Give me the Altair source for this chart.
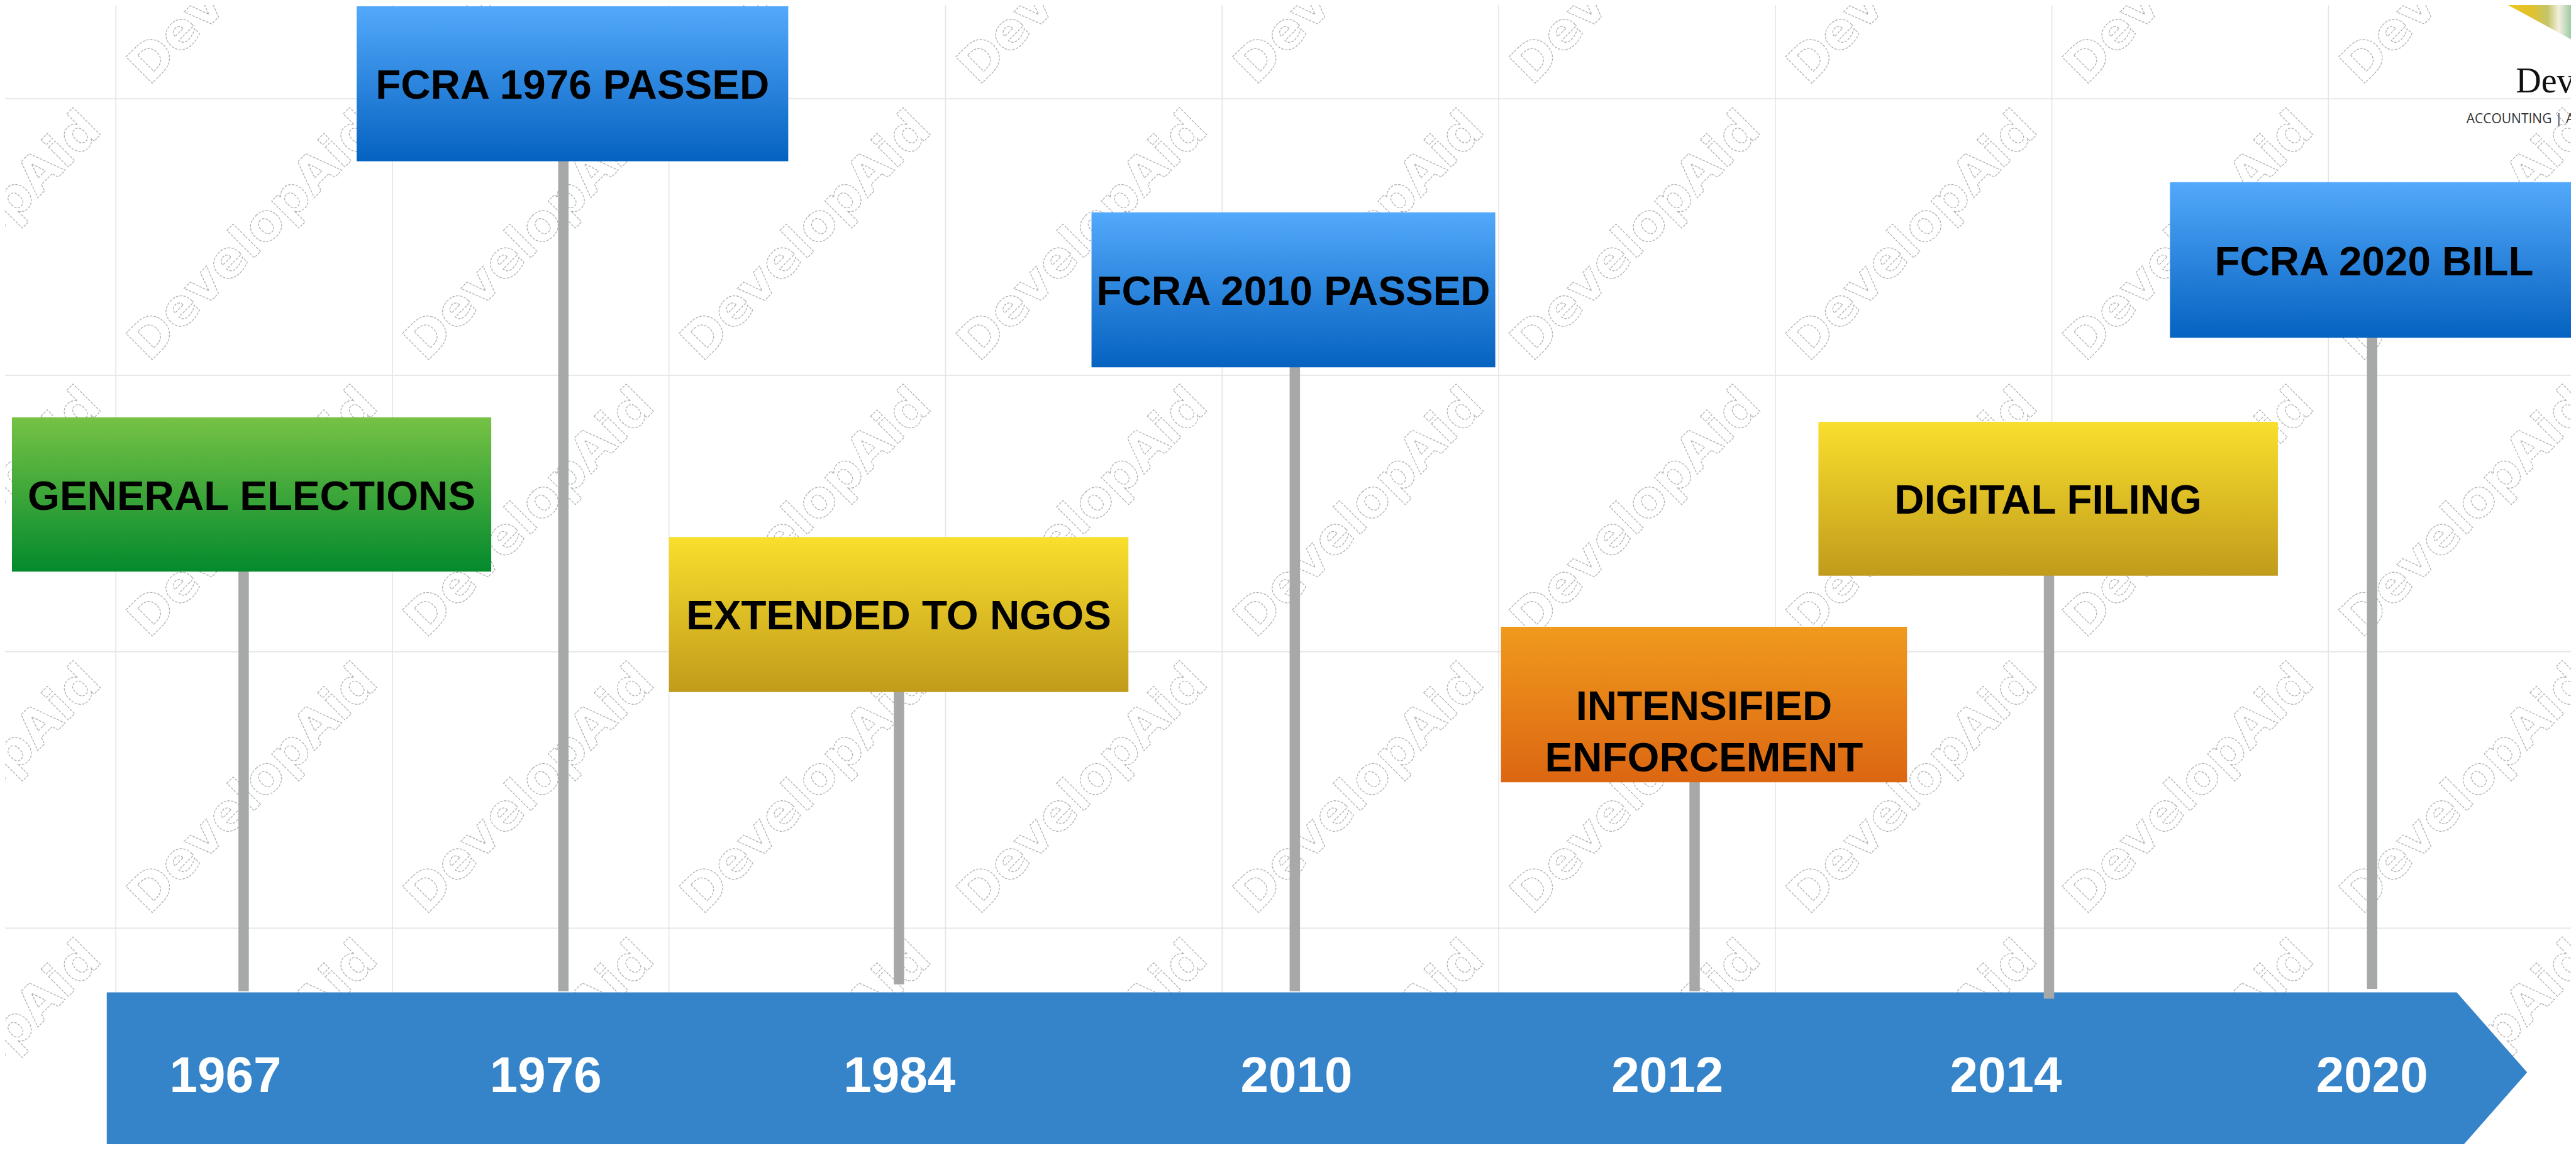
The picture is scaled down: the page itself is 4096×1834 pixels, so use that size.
import altair as alt
import pandas as pd

# ---------------- data (reference pixel units, 4532 x 2029) ----------------
labels = ["GENERAL ELECTIONS", "FCRA 1976 PASSED", "EXTENDED TO NGOS", "FCRA 2010 PASSED",
          "INTENSIFIED\nENFORCEMENT", "DIGITAL FILING", "FCRA 2020 BILL"]
years = ["1967", "1976", "1984", "2010", "2012", "2014", "2020"]
box_group = ["green", "blue", "yellow", "blue", "orange", "yellow", "blue"]
box_x1 = [21, 628, 1178, 1922, 2643, 3202, 3821]
box_x2 = [865, 1388, 1987, 2633, 3358, 4011, 4540]
box_y1 = [735, 11, 946, 374, 1104, 743, 321]
box_y2 = [1007, 284, 1219, 647, 1378, 1014, 595]
pole_x = [429, 992, 1583, 2280, 2984, 3608, 4177]
pole_bottom = [1746, 1746, 1734, 1746, 1746, 1759, 1742]
year_x = [397, 961, 1584, 2283, 2936, 3532, 4177]
year_baseline = [1924, 1924, 1924, 1924, 1924, 1924, 1924]

arrow_x = [188, 4326, 4450]
arrow_top = [1748, 1748, 1889]
arrow_bottom = [2030, 2030, 1889]

grid_x = [204, 691, 1178, 1665, 2152, 2639, 3126, 3613, 4100]
grid_y = [174, 661, 1148, 1635]

wm_x = [-40, 447, 934, 1421, 1908, 2395, 2882, 3369, 3856, 4343]
wm_y = [-70, 417, 904, 1391, 1878]

logo_shape_x = [4400, 4532]
logo_shape_y = [0, 72]
logo_shape_y2 = [0, 0]
logo_texts = ["Dev", "ACCOUNTING | AUDIT"]
logo_text_x = [4430, 4343]
logo_text_y = [163, 217]

gradients = {
    "green": ("#76c245", "#038a2d"),
    "blue": ("#53a9fb", "#0562c0"),
    "yellow": ("#f9df2d", "#c19b1b"),
    "orange": ("#f09a1d", "#dc6612"),
}

# ---------------- tables ----------------
boxes = pd.DataFrame({
    "label": labels, "year": years, "group": box_group,
    "x1": box_x1, "x2": box_x2, "y1": box_y1, "y2": box_y2,
    "px": pole_x, "pb": pole_bottom, "yx": year_x, "yb": year_baseline,
})
boxes["cx"] = (boxes["x1"] + boxes["x2"]) / 2
boxes["cy"] = (boxes["y1"] + boxes["y2"]) / 2

arrow = pd.DataFrame({"x": arrow_x, "y": arrow_top, "y2": arrow_bottom})
gx = pd.DataFrame({"x": grid_x})
gy = pd.DataFrame({"y": grid_y})
wm = pd.DataFrame([{"x": a, "y": b, "t": "DevelopAid"} for b in wm_y for a in wm_x])
logo_shape = pd.DataFrame({"x": logo_shape_x, "y": logo_shape_y, "y2": logo_shape_y2})
logo_txt = pd.DataFrame({"t": logo_texts, "x": logo_text_x, "y": logo_text_y})

# ---------------- scales ----------------
S = 0.903
W, H = 4080, 1812
X0, X1 = 8 / S, (8 + W) / S
Y0, Y1 = 8 / S, (8 + H) / S
xs = alt.Scale(domain=[X0, X1], nice=False, zero=False)
ys = alt.Scale(domain=[Y0, Y1], nice=False, zero=False, reverse=True)


def X(f):
    return alt.X(f, type="quantitative", scale=xs, axis=None)


def Y(f):
    return alt.Y(f, type="quantitative", scale=ys, axis=None)


layers = []

# grid
layers.append(alt.Chart(gx).mark_rule(color="#e4e4e4", strokeWidth=1.6, clip=True).encode(x=X("x")))
layers.append(alt.Chart(gy).mark_rule(color="#e4e4e4", strokeWidth=1.6, clip=True).encode(y=Y("y")))

# watermark
layers.append(alt.Chart(wm).mark_text(
    font="DejaVu Sans", fontWeight="bold", fontSize=81, angle=315,
    align="center", baseline="middle", fill="#ffffff", fillOpacity=0,
    stroke="#b2b2b2", strokeWidth=1.3, strokeDash=[4, 2], clip=True,
).encode(x=X("x"), y=Y("y"), text="t:N"))

# logo
layers.append(alt.Chart(logo_shape).mark_area(
    clip=True,
    color=alt.LinearGradient(
        gradient="linear", x1=0, y1=0, x2=1, y2=0,
        stops=[alt.GradientStop(color="#f2c512", offset=0),
               alt.GradientStop(color="#e0c230", offset=0.45),
               alt.GradientStop(color="#c4c46a", offset=0.65),
               alt.GradientStop(color="#f3efdc", offset=0.8),
               alt.GradientStop(color="#8cc39a", offset=1)]),
).encode(x=X("x"), y=Y("y"), y2="y2"))
layers.append(alt.Chart(logo_txt).transform_filter(alt.datum.t == "Dev").mark_text(
    font="Liberation Serif", fontSize=56, align="left", baseline="alphabetic",
    color="#111111", clip=True).encode(x=X("x"), y=Y("y"), text="t:N"))
layers.append(alt.Chart(logo_txt).transform_filter(alt.datum.t != "Dev").mark_text(
    font="Open Sans", fontSize=21, align="left", baseline="alphabetic",
    color="#333333", clip=True).encode(x=X("x"), y=Y("y"), text="t:N"))

# arrow
layers.append(alt.Chart(arrow).mark_area(color="#3584c9", clip=True).encode(
    x=X("x"), y=Y("y"), y2="y2"))

# poles
layers.append(alt.Chart(boxes).mark_rule(color="#a6a9a8", strokeWidth=16.5, clip=True).encode(
    x=X("px"), y=Y("cy"), y2="pb"))

# boxes
for g, (c1, c2) in gradients.items():
    layers.append(alt.Chart(boxes).transform_filter(alt.datum.group == g).mark_rect(
        clip=True,
        color=alt.LinearGradient(
            gradient="linear", x1=0, y1=0, x2=0, y2=1,
            stops=[alt.GradientStop(color=c1, offset=0),
                   alt.GradientStop(color=c2, offset=1)]),
    ).encode(x=X("x1"), x2="x2", y=Y("y1"), y2="y2"))

# box labels
layers.append(alt.Chart(boxes).mark_text(
    font="Liberation Sans", fontWeight="bold", fontSize=65.5, color="#000000",
    align="center", baseline="middle", dy=4, lineBreak="\n", lineHeight=82, clip=True,
).encode(x=X("cx"), y=Y("cy"), text="label:N"))

# year labels
layers.append(alt.Chart(boxes).mark_text(
    font="Liberation Sans", fontWeight="bold", fontSize=80, color="#ffffff",
    align="center", baseline="alphabetic", clip=True,
).encode(x=X("yx"), y=Y("yb"), text="year:N"))

chart = alt.layer(*layers).properties(
    width=W, height=H, padding=0, autosize="none", background="#ffffff"
).configure_view(strokeOpacity=0)

chart.save("out.html", embed_options={"renderer": "svg", "actions": False})
